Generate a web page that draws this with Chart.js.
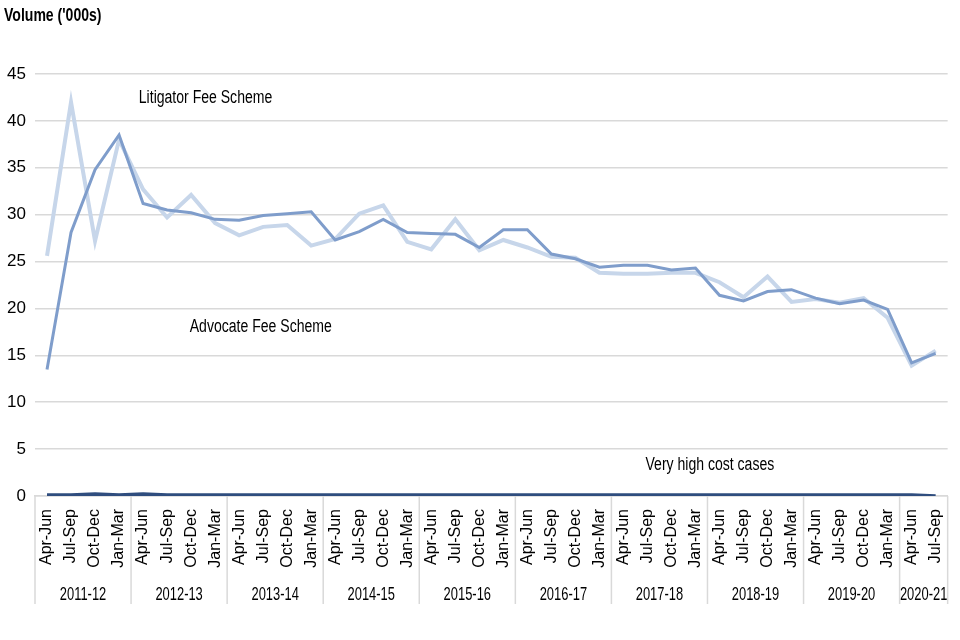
<!DOCTYPE html>
<html lang="en">
<head>
  <meta charset="UTF-8">
  <title>Volume chart</title>
  <script src="https://cdn.jsdelivr.net/npm/chart.js"></script>
  <style>
    body { margin: 0; background: #fff; }
    #wrap { width: 960px; height: 640px; }
  </style>
</head>
<body>
  <div id="wrap"><canvas id="volChart" width="960" height="640"></canvas></div>
  <script>
    const quarters = ['Apr-Jun', 'Jul-Sep', 'Oct-Dec', 'Jan-Mar'];
    const years = ['2011-12', '2012-13', '2013-14', '2014-15', '2015-16', '2016-17', '2017-18', '2018-19', '2019-20', '2020-21'];
    const quartersPerYear = [4, 4, 4, 4, 4, 4, 4, 4, 4, 2];

    const litigator = [25.6, 42.0, 27.2, 38.0, 32.7, 29.7, 32.1, 29.1, 27.8, 28.7,
                       28.9, 26.7, 27.4, 30.1, 31.0, 27.1, 26.3, 29.5, 26.2, 27.3,
                       26.5, 25.5, 25.4, 23.8, 23.7, 23.7, 23.8, 23.8, 22.8, 21.2,
                       23.4, 20.7, 21.0, 20.6, 21.1, 19.0, 13.9, 15.5];
    const advocate = [13.5, 28.1, 34.8, 38.5, 31.2, 30.5, 30.2, 29.5, 29.4, 29.9,
                      30.1, 30.3, 27.3, 28.2, 29.5, 28.1, 28.0, 27.9, 26.5, 28.4,
                      28.4, 25.8, 25.3, 24.4, 24.6, 24.6, 24.1, 24.3, 21.4, 20.8,
                      21.8, 22.0, 21.1, 20.5, 20.9, 19.9, 14.2, 15.2];
    const vhcc = [0.1, 0.1, 0.2, 0.1, 0.2, 0.1, 0.1, 0.1, 0.1, 0.1,
                  0.1, 0.1, 0.1, 0.1, 0.1, 0.1, 0.1, 0.1, 0.1, 0.1,
                  0.1, 0.1, 0.1, 0.1, 0.1, 0.1, 0.1, 0.1, 0.1, 0.1,
                  0.1, 0.1, 0.1, 0.1, 0.1, 0.1, 0.1, 0.0];

    // series names placed inside the plot: [text, category index, y value]
    const seriesLabels = [
      ['Litigator Fee Scheme', 6.6, 42.4],
      ['Advocate Fee Scheme', 8.9, 18.0],
      ['Very high cost cases', 27.6, 3.3]
    ];

    const labels = [];
    years.forEach((y, i) => {
      for (let q = 0; q < quartersPerYear[i]; q++) labels.push(quarters[q]);
    });

    const FONT = '"Liberation Sans", Arial, sans-serif';

    // text squeezed horizontally, the reference uses a narrow face
    function narrowText(ctx, text, x, y, size, bold, align, squeeze) {
      ctx.save();
      ctx.font = (bold ? 'bold ' : '') + size + 'px ' + FONT;
      ctx.textAlign = align;
      ctx.textBaseline = 'middle';
      ctx.translate(x, y);
      ctx.scale(squeeze, 1);
      ctx.fillText(text, 0, 0);
      ctx.restore();
    }

    const groupAxis = {
      id: 'groupAxis',
      afterDraw(chart) {
        const ctx = chart.ctx;
        const x = chart.scales.x;
        const area = chart.chartArea;
        const step = x.getPixelForValue(1) - x.getPixelForValue(0);
        ctx.save();
        ctx.strokeStyle = '#d9d9d9';
        ctx.lineWidth = 1.5;
        ctx.fillStyle = '#000';
        let idx = 0;
        const edges = [area.left];
        years.forEach((y, i) => {
          const start = x.getPixelForValue(idx) - step / 2;
          idx += quartersPerYear[i];
          const end = x.getPixelForValue(idx - 1) + step / 2;
          edges.push(end);
          narrowText(ctx, y, (start + end) / 2, 595, 19, false, 'center', 0.68);
        });
        edges.forEach(e => {
          ctx.beginPath();
          ctx.moveTo(e, area.bottom);
          ctx.lineTo(e, 604);
          ctx.stroke();
        });

        narrowText(ctx, "Volume ('000s)", 4, 16, 18, true, 'left', 0.78);

        const yS = chart.scales.y;
        seriesLabels.forEach(l => {
          const px = x.getPixelForValue(Math.floor(l[1])) + (l[1] % 1) * step;
          narrowText(ctx, l[0], px, yS.getPixelForValue(l[2]), 18, false, 'center', 0.78);
        });
        ctx.restore();
      }
    };

    new Chart(document.getElementById('volChart'), {
      type: 'line',
      data: {
        labels: labels,
        datasets: [
          { label: 'Very high cost cases', data: vhcc, borderColor: '#2f4d7e', borderWidth: 3.5, pointRadius: 0, fill: false },
          { label: 'Advocate Fee Scheme', data: advocate, borderColor: '#7f9dcb', borderWidth: 3, pointRadius: 0, fill: false },
          { label: 'Litigator Fee Scheme', data: litigator, borderColor: '#c7d6ea', borderWidth: 4, pointRadius: 0, fill: false }
        ]
      },
      options: {
        responsive: false,
        animation: false,
        layout: { padding: { top: 74, right: 12, left: 0, bottom: 0 } },
        plugins: { legend: { display: false }, tooltip: { enabled: false } },
        scales: {
          x: {
            offset: true,
            grid: { display: false, offset: true },
            border: { color: '#d9d9d9', width: 1.5 },
            ticks: {
              minRotation: 90, maxRotation: 90, autoSkip: false, padding: 5,
              color: '#000', font: { size: 16, family: FONT }
            },
            afterFit: s => { s.height = 144; }
          },
          y: {
            min: 0, max: 45,
            border: { display: false },
            grid: { color: '#d9d9d9', lineWidth: 1.5, drawTicks: false },
            ticks: { stepSize: 5, padding: 9, color: '#000', font: { size: 17, family: FONT } },
            afterFit: s => { s.width = 35; }
          }
        }
      },
      plugins: [groupAxis]
    });
  </script>
</body>
</html>
